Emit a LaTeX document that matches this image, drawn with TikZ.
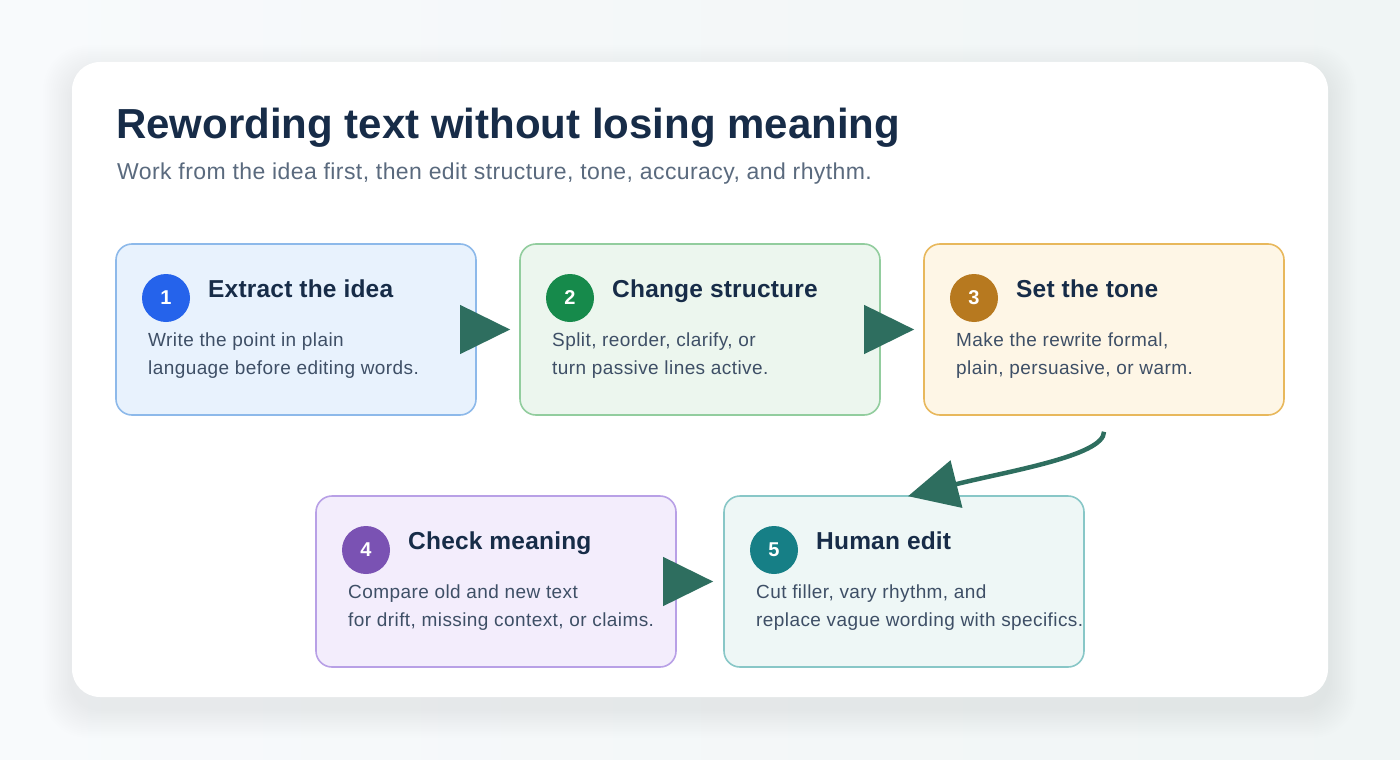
\documentclass[tikz,border=0pt]{standalone}
\usepackage{fontspec}
\setmainfont{Liberation Sans}
\usetikzlibrary{arrows.meta,calc}
\definecolor{bgc}{HTML}{F4F7F9}
\definecolor{bga}{HTML}{F8FAFC}
\definecolor{bgb}{HTML}{F0F5F5}
\definecolor{titlec}{HTML}{172C48}
\definecolor{subc}{HTML}{5A6A7E}
\definecolor{bodyc}{HTML}{3E4F66}
\definecolor{arrowc}{HTML}{2E6E5F}
\definecolor{f1}{HTML}{E8F2FD}\definecolor{d1}{HTML}{8DB9EA}\definecolor{c1}{HTML}{2563EB}
\definecolor{f2}{HTML}{ECF6EE}\definecolor{d2}{HTML}{92CD9E}\definecolor{c2}{HTML}{168A4B}
\definecolor{f3}{HTML}{FEF6E6}\definecolor{d3}{HTML}{E8B85C}\definecolor{c3}{HTML}{B7791F}
\definecolor{f4}{HTML}{F3EDFC}\definecolor{d4}{HTML}{B8A0E6}\definecolor{c4}{HTML}{7A52B3}
\definecolor{f5}{HTML}{EEF7F6}\definecolor{d5}{HTML}{88C7C7}\definecolor{c5}{HTML}{167F86}
\tikzset{
  stepbox/.style={rectangle, rounded corners=16pt, line width=1.6pt, minimum width=360pt, minimum height=171pt, inner sep=0pt},
  numc/.style={circle, minimum size=48pt, inner sep=0pt, text=white, font=\bfseries\fontsize{20}{24}\selectfont},
  steptitle/.style={anchor=base west, inner sep=0pt, text=titlec, font=\bfseries\fontsize{24.5}{28}\selectfont\addfontfeatures{LetterSpace=0.8}},
  stepbody/.style={anchor=base west, inner sep=0pt, text=bodyc, font=\fontsize{19}{22}\selectfont\addfontfeatures{LetterSpace=2.2}},
  flow/.style={draw=arrowc, line width=4.5pt, -{Triangle[length=50pt,width=48pt]}, fill=none}
}
\begin{document}
\begin{tikzpicture}[x=1pt,y=-1pt]
\useasboundingbox (0,0) rectangle (1400,760);
\shade[left color=bga, right color=bgb] (0,0) rectangle (1400,760);
% card shadow
\foreach \i in {1,...,16}{
  \fill[black, opacity=0.0045, rounded corners=28pt+\i pt] (72-\i*1.8,62-\i*1.8+12) rectangle (1328+\i*1.8,697+\i*1.8+12);
}
\fill[white, rounded corners=28pt] (72,62) rectangle (1328,697);
% title
\node[anchor=base west, inner sep=0pt, text=titlec, font=\bfseries\fontsize{42}{48}\selectfont] (title) at (116,138) {Rewording text without losing meaning};
\node[anchor=base west, inner sep=0pt, text=subc, font=\fontsize{23}{26}\selectfont\addfontfeatures{LetterSpace=1.8}] (subtitle) at (117,179) {Work from the idea first, then edit structure, tone, accuracy, and rhythm.};
% boxes
\node[stepbox, fill=f1, draw=d1] (b1) at (296,329.5) {};
\node[stepbox, fill=f2, draw=d2] (b2) at (700,329.5) {};
\node[stepbox, fill=f3, draw=d3] (b3) at (1104,329.5) {};
\node[stepbox, fill=f4, draw=d4] (b4) at (496,581.5) {};
\node[stepbox, fill=f5, draw=d5] (b5) at (904,581.5) {};
% box 1
\node[numc, fill=c1] (n1) at (166,298) {1};
\node[steptitle] (t1) at (208,297) {Extract the idea};
\node[stepbody] (l1a) at (148,346) {Write the point in plain};
\node[stepbody] (l1b) at (148,374) {language before editing words.};
% box 2
\node[numc, fill=c2] (n2) at (570,298) {2};
\node[steptitle] (t2) at (612,297) {Change structure};
\node[stepbody] (l2a) at (552,346) {Split, reorder, clarify, or};
\node[stepbody] (l2b) at (552,374) {turn passive lines active.};
% box 3
\node[numc, fill=c3] (n3) at (974,298) {3};
\node[steptitle] (t3) at (1016,297) {Set the tone};
\node[stepbody] (l3a) at (956,346) {Make the rewrite formal,};
\node[stepbody] (l3b) at (956,374) {plain, persuasive, or warm.};
% box 4
\node[numc, fill=c4] (n4) at (366,550) {4};
\node[steptitle] (t4) at (408,549) {Check meaning};
\node[stepbody] (l4a) at (348,598) {Compare old and new text};
\node[stepbody] (l4b) at (348,626) {for drift, missing context, or claims.};
% box 5
\node[numc, fill=c5] (n5) at (774,550) {5};
\node[steptitle] (t5) at (816,549) {Human edit};
\node[stepbody] (l5a) at (756,598) {Cut filler, vary rhythm, and};
\node[stepbody] (l5b) at (756,626) {replace vague wording with specifics.};
% arrows
\draw[flow] (b1.east) -- ([xshift=-9pt]b2.west);
\draw[flow] (b2.east) -- ([xshift=-9pt]b3.west);
\draw[flow] (b4.east) -- ([xshift=-10pt]b5.west);
\draw[flow] ([yshift=-16pt]b3.south) .. controls +(0,24) and +(100,-25) .. ([xshift=4pt,yshift=-1pt]b5.north);
\end{tikzpicture}
\end{document}
